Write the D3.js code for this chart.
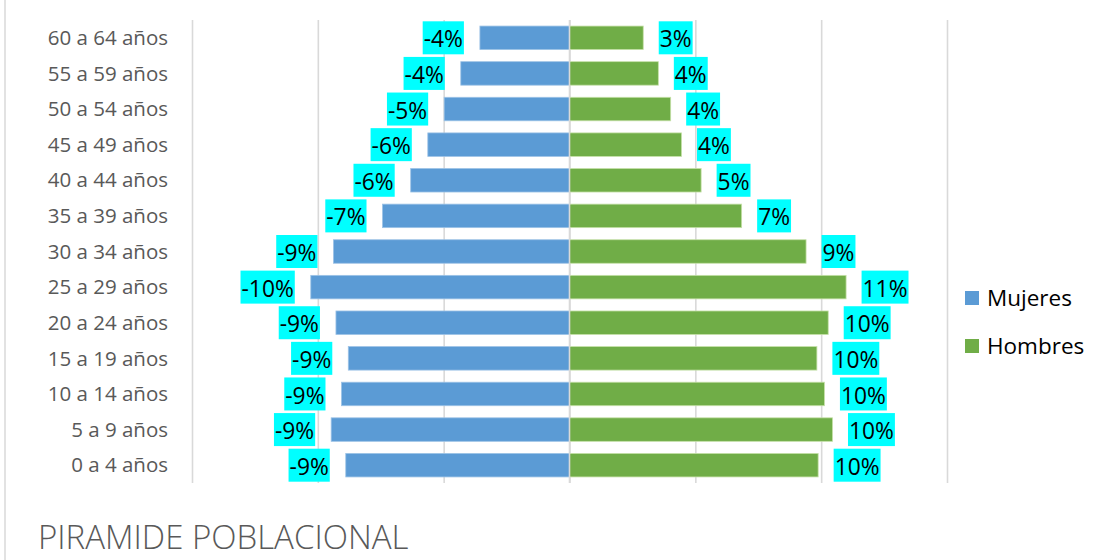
<!DOCTYPE html>
<html><head><meta charset="utf-8">
<script src="https://cdn.jsdelivr.net/npm/d3@7"></script>
<style>
html,body{margin:0;padding:0;background:#fff;}
svg{display:block;font-family:"Open Sans",sans-serif;}
</style></head>
<body><svg id="c" width="1101" height="560"></svg>
<script>
const categories = ["60 a 64 años","55 a 59 años","50 a 54 años","45 a 49 años","40 a 44 años","35 a 39 años","30 a 34 años","25 a 29 años","20 a 24 años","15 a 19 años","10 a 14 años","5 a 9 años","0 a 4 años"];
const mujeres = [-3.56,-4.32,-4.98,-5.63,-6.31,-7.43,-9.38,-10.28,-9.28,-8.79,-9.06,-9.47,-8.89];
const hombres = [2.93,3.53,4.02,4.45,5.23,6.84,9.4,10.99,10.28,9.83,10.13,10.45,9.88];
const seriesNames = ["Mujeres","Hombres"];
const colors = ["#5B9BD5","#70AD47"];
const xTicks = [-15,-10,-5,0,5,10,15];
const title = "PIRAMIDE POBLACIONAL";

const svg = d3.select("#c");
const x = d3.scaleLinear().domain([-15,15]).range([192,947]);
const y = d3.scaleBand().domain(categories).range([20,483]).paddingInner(0.34).paddingOuter(0.17);

// left chart border
svg.append("line").attr("x1",5).attr("x2",5).attr("y1",0).attr("y2",560).attr("stroke","#D9D9D9").attr("stroke-width",1.5);

// gridlines
const grid = svg.append("g").attr("transform","translate(0,483)")
  .call(d3.axisBottom(x).tickValues(xTicks).tickSize(-463).tickFormat(""));
grid.select(".domain").remove();
grid.selectAll("line").attr("stroke","#D9D9D9").attr("stroke-width",1.6);

// bars
const data = categories.map((c,i)=>({c, m:mujeres[i], h:hombres[i]}));
svg.append("g").selectAll("rect").data(data).join("rect")
  .attr("x",d=>x(d.m)).attr("width",d=>x(0)-x(d.m))
  .attr("y",d=>y(d.c)).attr("height",y.bandwidth())
  .attr("fill",colors[0]).attr("stroke","#9dc3e6").attr("stroke-width",0.8);
svg.append("g").selectAll("rect").data(data).join("rect")
  .attr("x",x(0)).attr("width",d=>x(d.h)-x(0))
  .attr("y",d=>y(d.c)).attr("height",y.bandwidth())
  .attr("fill",colors[1]).attr("stroke","#c5e0a8").attr("stroke-width",0.8);

// center line
svg.append("line").attr("x1",x(0)).attr("x2",x(0)).attr("y1",20).attr("y2",483)
  .attr("stroke","#D9D9D9").attr("stroke-width",1.6);

// y axis labels
const ya = svg.append("g").attr("transform","translate(192,0)")
  .call(d3.axisLeft(y).tickSize(0).tickPadding(24));
ya.select(".domain").remove();
ya.selectAll("text").attr("font-size","20.5px").attr("fill","#595959")
  .attr("font-family","'Open Sans',sans-serif").attr("dy","0.35em");

// data labels
const fmt = v => Math.round(v) + "%";
function addLabels(vals, side){
  const g = svg.append("g");
  data.forEach((d,i)=>{
    const v = vals[i];
    const cy = y(d.c) + y.bandwidth()/2;
    const lg = g.append("g");
    const t = lg.append("text").text(fmt(v)).attr("font-size","22.8px").attr("fill","#000")
      .attr("y", cy + 9.6);
    const w = t.node().getComputedTextLength();
    let bx;
    if(side<0){ bx = x(v) - 16 - (w+2); } else { bx = x(v) + 15.5; }
    t.attr("x", bx+1);
    lg.insert("rect","text").attr("x",bx).attr("y",cy-16.5).attr("width",w+2).attr("height",33).attr("fill","#00FFFF");
  });
}
addLabels(mujeres,-1);
addLabels(hombres,1);

// legend
const leg = svg.append("g");
seriesNames.forEach((n,i)=>{
  const cy = 298 + i*48;
  leg.append("rect").attr("x",965).attr("y",cy-7).attr("width",14).attr("height",14).attr("fill",colors[i]);
  leg.append("text").attr("x",987).attr("y",cy+8).attr("font-size","22.5px").attr("fill","#000").text(n);
});

// title
svg.append("text").attr("x",38).attr("y",549).attr("font-size","33px").attr("font-weight",300)
  .attr("fill","#595959").text(title);
</script></body></html>
